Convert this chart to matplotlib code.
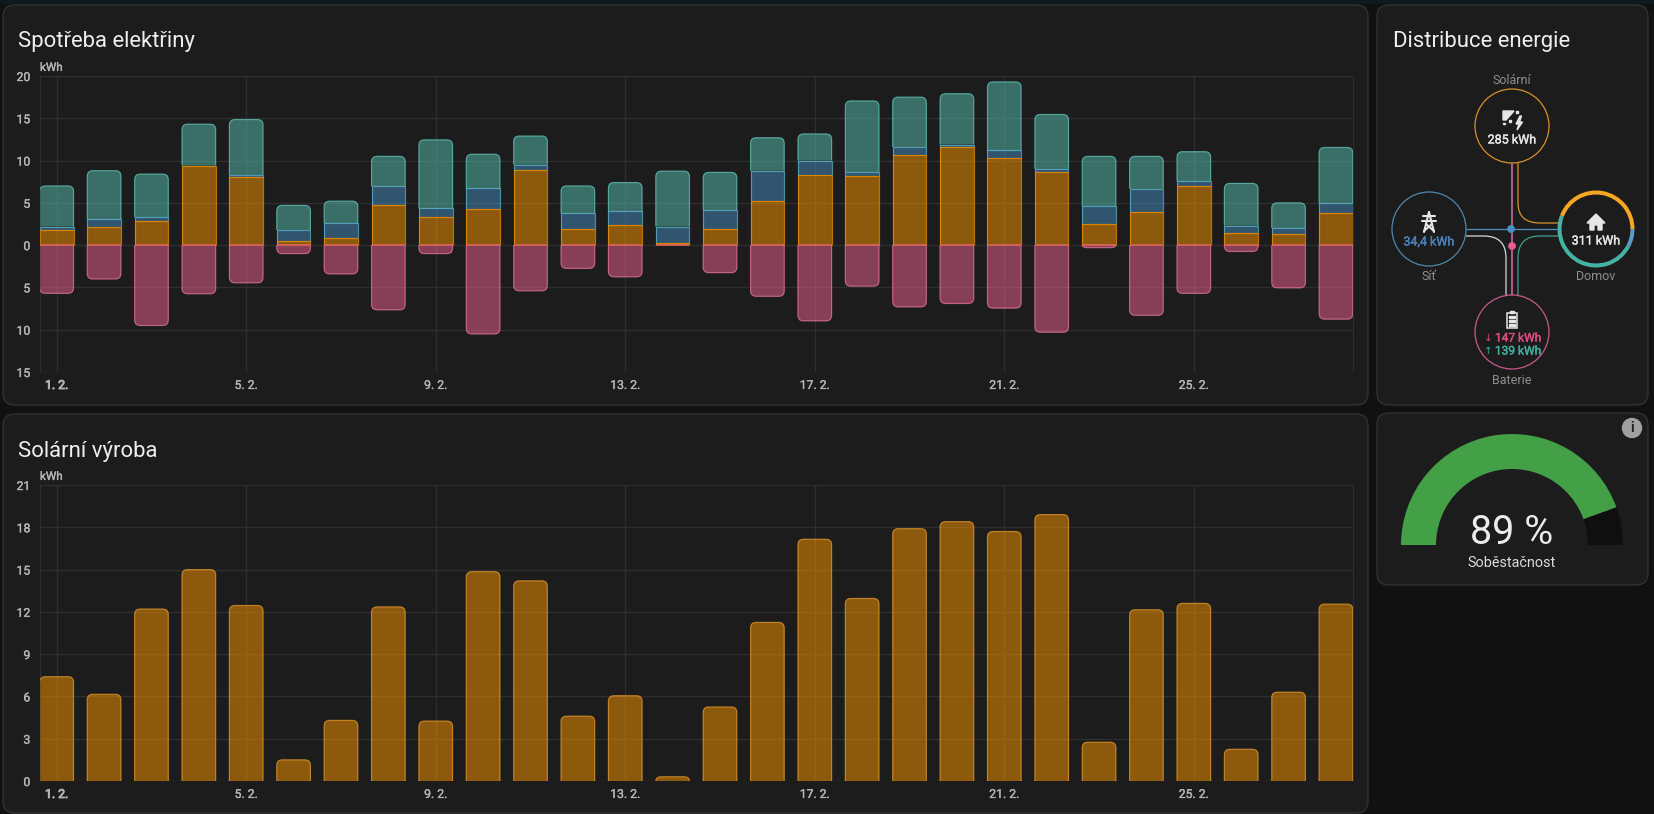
#!/usr/bin/env python3
"""Energy dashboard: consumption, solar production, distribution and self-sufficiency."""

import numpy as np
import matplotlib
matplotlib.use('Agg')
import matplotlib.pyplot as plt
import matplotlib.patheffects as pe
from matplotlib.patches import Arc, Circle, FancyBboxPatch, PathPatch, Polygon, Rectangle, Wedge
from matplotlib.path import Path

plt.rcParams['font.family'] = ['Roboto', 'DejaVu Sans']

W, H = 1654, 814

days = list(range(1, 29))
tick_days = [1, 5, 9, 13, 17, 21, 25]

# kWh per day, stacked in this order
solar_to_home = [1.8, 2.15, 2.8, 9.4, 8.1, 0.5, 0.9, 4.8, 3.3, 4.3, 8.9, 1.9, 2.4, 0.25,
                 1.95, 5.2, 8.3, 8.15, 10.6, 11.6, 10.25, 8.7, 2.45, 3.9, 6.95, 1.45, 1.3, 3.8]
grid_to_home = [0.4, 0.9, 0.5, 0.0, 0.2, 1.3, 1.7, 2.15, 1.05, 2.4, 0.6, 1.85, 1.6, 1.95,
                2.2, 3.6, 1.7, 0.5, 1.0, 0.3, 0.95, 0.3, 2.15, 2.75, 0.6, 0.85, 0.7, 1.15]
battery_to_home = [4.8, 5.75, 5.1, 4.9, 6.55, 2.9, 2.6, 3.55, 8.1, 4.05, 3.4, 3.25, 3.4, 6.55,
                   4.45, 3.9, 3.15, 8.4, 5.9, 6.0, 8.1, 6.45, 5.9, 3.85, 3.5, 5.0, 3.0, 6.6]
to_battery = [5.7, 4.0, 9.5, 5.75, 4.45, 1.0, 3.4, 7.65, 1.0, 10.5, 5.4, 2.75, 3.75, 0.0,
              3.25, 6.05, 8.95, 4.85, 7.3, 6.9, 7.45, 10.3, 0.3, 8.3, 5.7, 0.75, 5.05, 8.75]

solar_production = [7.4, 6.15, 12.2, 15.0, 12.45, 1.5, 4.3, 12.35, 4.25, 14.85, 14.2, 4.6, 6.05, 0.3,
                    5.25, 11.25, 17.15, 12.95, 17.9, 18.4, 17.7, 18.9, 2.75, 12.15, 12.6, 2.25, 6.3, 12.55]

self_sufficiency = 89

ORANGE = '#ff9800'
BLUE = '#488fc2'
TEAL = '#58c2b2'
PINK = '#f06292'
LABEL = '#b4b4b4'
GRID = '#2e2e2e'

# chart geometry in pixels
PLOT_L, PLOT_R = 40, 1353
DAY_W = 47.38
FIRST_C = 56.7


def px_axes(fig, left, top, right, bottom):
    return fig.add_axes([left / W, 1 - bottom / H, (right - left) / W, (bottom - top) / H])


def thicken(text, width):
    # Roboto only comes in one usable weight here, so fatten the glyphs a little
    text.set_path_effects([pe.withStroke(linewidth=width, foreground=text.get_color())])


def bar_segment(ax, day, y0, y1, color, edge=None, rounded=False, px_y=8.45):
    """One bar piece from y0 to y1; the y1 end gets round corners if asked."""
    half = 0.355
    x0, x1 = day - half, day + half
    edge = edge or color
    sign = 1 if y1 >= y0 else -1
    rx = 5.5 / DAY_W
    ry = min(5.5 / px_y, abs(y1 - y0))
    if rounded:
        verts = [(x0, y0), (x0, y1 - sign * ry), (x0, y1), (x0 + rx, y1),
                 (x1 - rx, y1), (x1, y1), (x1, y1 - sign * ry), (x1, y0)]
        codes = [Path.MOVETO, Path.LINETO, Path.CURVE3, Path.CURVE3,
                 Path.LINETO, Path.CURVE3, Path.CURVE3, Path.LINETO]
    else:
        verts = [(x0, y0), (x0, y1), (x1, y1), (x1, y0)]
        codes = [Path.MOVETO, Path.LINETO, Path.LINETO, Path.LINETO]
    path = Path(verts, codes)
    ax.add_patch(PathPatch(path, facecolor=color, alpha=0.5, edgecolor='none', zorder=2))
    ax.add_patch(PathPatch(path, facecolor='none', edgecolor=edge, alpha=0.7, lw=0.85, zorder=3))


def style_axes(ax, ymin, ymax, yticks):
    ax.set_facecolor('none')
    ax.set_xlim((PLOT_L - FIRST_C) / DAY_W + 1, (PLOT_R - FIRST_C) / DAY_W + 1)
    ax.set_ylim(ymin, ymax)
    ax.set_yticks(yticks)
    ax.set_yticklabels([str(abs(v)) for v in yticks])
    ax.set_xticks(tick_days)
    ax.set_xticklabels([f'{d}. 2.' for d in tick_days])
    ax.tick_params(length=0, colors=LABEL, labelsize=8.8)
    ax.tick_params(axis='x', pad=5)
    ax.tick_params(axis='y', pad=7)
    for lab in ax.get_xticklabels()[1:] + ax.get_yticklabels():
        thicken(lab, 0.25)
    thicken(ax.get_xticklabels()[0], 0.7)
    ax.grid(True, color=GRID, lw=1.0)
    ax.set_axisbelow(True)
    for side, spine in ax.spines.items():
        spine.set_visible(side in ('left', 'right'))
        spine.set_color(GRID)
    unit = ax.text(0, 1.007, 'kWh', transform=ax.transAxes, color=LABEL, fontsize=8.4,
                   ha='left', va='bottom')
    thicken(unit, 0.25)


def card(bg, left, top, right, bottom):
    bg.add_patch(FancyBboxPatch((left + 12, top + 12), right - left - 24, bottom - top - 24,
                                boxstyle='round,pad=12,rounding_size=12',
                                facecolor='#1c1c1c', edgecolor='#343434', lw=0.9))


def flow(bg, pts, color, lw=0.9):
    # pts: line / curve control points, 'c' marks a quadratic corner
    verts, codes = [pts[0]], [Path.MOVETO]
    for p in pts[1:]:
        if p[0] == 'c':
            verts += [p[1], p[2]]
            codes += [Path.CURVE3, Path.CURVE3]
        else:
            verts.append(p)
            codes.append(Path.LINETO)
    bg.add_patch(PathPatch(Path(verts, codes), facecolor='none', edgecolor=color, lw=lw))


def draw_distribution(bg):
    cx, r = 1512, 37
    grid_c, home_c, solar_c, batt_c = (1429, 229), (1596, 229), (cx, 126), (cx, 332)

    flow(bg, [(1518, 163), (1518, 203), ('c', (1518, 223), (1540, 223)), (1559, 223)], '#d9912a')
    flow(bg, [(1466, 229), (1559, 229)], BLUE)
    flow(bg, [(1466, 236), (1484, 236), ('c', (1506, 236), (1506, 258)), (1506, 295)], '#d8d8d8')
    flow(bg, [(1518, 295), (1518, 258), ('c', (1518, 236), (1540, 236)), (1559, 236)], '#3f9f8f')
    flow(bg, [(cx, 163), (cx, 295)], '#a85c84', lw=1.5)
    bg.add_patch(Circle((1511, 229), 3.2, color=BLUE))
    bg.add_patch(Circle((cx, 246), 3.2, color='#e85c90'))

    bg.add_patch(Circle(solar_c, r, fc='#1c1c1c', ec='#d9912a', lw=0.9))
    bg.add_patch(Circle(grid_c, r, fc='#1c1c1c', ec='#4f86ad', lw=0.9))
    bg.add_patch(Circle(batt_c, r, fc='#1c1c1c', ec='#c9588a', lw=0.9))

    # home ring, split by source
    for th0, th1, col in [(201, 360, '#f5a623'), (0, 28, '#5b9bc8'), (28, 201, '#45b3a3')]:
        bg.add_patch(Arc(home_c, 2 * r - 1, 2 * r - 1, theta1=th0, theta2=th1, color=col, lw=2.9))

    small = dict(color='#8f8f8f', fontsize=9.0, ha='center', va='center')
    bg.text(cx, 81, 'Solární', **small)
    bg.text(1429, 276, 'Síť', **small)
    bg.text(1596, 276, 'Domov', **small)
    bg.text(cx, 381, 'Baterie', **small)

    val = dict(fontsize=9.0, ha='center', va='center')
    for x, y, s, col in [(cx, 140, '285 kWh', '#e4e4e4'), (1429, 242, '34,4 kWh', '#4a7fb5'),
                         (1596, 241, '311 kWh', '#e4e4e4')]:
        thicken(bg.text(x, y, s, color=col, **val), 0.3)
    batt = dict(fontsize=8.6, ha='center', va='center')
    thicken(bg.text(cx + 6, 338, '147 kWh', color='#d84e7f', **batt), 0.3)
    thicken(bg.text(cx + 6, 351, '139 kWh', color='#3fae9c', **batt), 0.3)
    bg.text(cx - 24, 337.5, '↓', color='#d84e7f', fontsize=7.5, ha='center', va='center')
    bg.text(cx - 24, 350.5, '↑', color='#3fae9c', fontsize=7.5, ha='center', va='center')

    icon = '#e6e6e6'
    # solar panel and bolt
    bg.add_patch(Polygon([(1503, 111), (1514, 111), (1506, 120), (1503, 120)], color=icon))
    bg.add_patch(Rectangle((1509, 120), 1.8, 1.8, color=icon))
    bg.add_patch(Rectangle((1503, 122.5), 1.8, 1.8, color=icon))
    bg.add_patch(Rectangle((1516, 111), 1.8, 1.8, color=icon))
    bg.add_patch(Polygon([(1520, 116), (1516, 124), (1519, 124), (1517, 130), (1522.5, 122),
                          (1519.5, 122), (1521.5, 116)], color=icon))
    # pylon
    for seg in [((1429, 212), (1424, 232)), ((1429, 212), (1434, 232)), ((1423, 216), (1435, 216)),
                ((1422, 221), (1436, 221)), ((1426, 224), (1434, 231)), ((1432, 224), (1424, 231))]:
        bg.plot(*zip(*seg), color=icon, lw=1.5, solid_capstyle='round')
    # house
    bg.add_patch(Polygon([(1596, 214), (1605, 223), (1602, 223), (1602, 230), (1598, 230), (1598, 225),
                          (1594, 225), (1594, 230), (1590, 230), (1590, 223), (1587, 223)], color=icon))
    # battery
    bg.add_patch(Rectangle((1507, 313), 10, 15, fc='none', ec=icon, lw=1.1))
    bg.add_patch(Rectangle((1510, 311), 4, 2, color=icon))
    for y in (315.5, 319.5, 323.5):
        bg.add_patch(Rectangle((1509, y), 6, 2.2, color=icon))


def draw_gauge(bg):
    center, outer, band = (1512, 545), 111, 35
    split = 180 + 180 * self_sufficiency / 100
    bg.add_patch(Wedge(center, outer, 180, split, width=band, color='#43a047', lw=0))
    bg.add_patch(Wedge(center, outer, split, 360, width=band, color='#0f0f0f', lw=0))
    bg.text(1512, 544, f'{self_sufficiency} %', color='#ececec', fontsize=28.5, ha='center', va='baseline')
    bg.text(1512, 563, 'Soběstačnost', color='#dcdcdc', fontsize=10.4, ha='center', va='center')
    bg.add_patch(Circle((1632, 428), 9.5, color='#a0a0a0'))
    bg.text(1632, 428, 'i', color='#222222', fontsize=10, fontweight='bold', ha='center', va='center')


def main():
    fig = plt.figure(figsize=(W / 100, H / 100), dpi=100, facecolor='#111111')

    bg = fig.add_axes([0, 0, 1, 1], zorder=0)
    bg.set_xlim(0, W)
    bg.set_ylim(H, 0)
    bg.axis('off')
    bg.add_patch(Rectangle((0, 0), W, 4, color='#0e1a20', lw=0))

    card(bg, 3, 5, 1368, 405)
    card(bg, 3, 414, 1368, 813)
    card(bg, 1377, 5, 1648, 405)
    card(bg, 1377, 413, 1648, 585)

    title = dict(color='#eeeeee', fontsize=15.9, ha='left', va='baseline')
    bg.text(18, 47, 'Spotřeba elektřiny', **title)
    bg.text(18, 457, 'Solární výroba', **title)
    bg.text(1393, 47, 'Distribuce energie', **title)

    # consumption chart
    ax1 = px_axes(fig, PLOT_L, 76, PLOT_R, 372)
    ax1.set_zorder(1)
    style_axes(ax1, -15, 20, [-15, -10, -5, 0, 5, 10, 15, 20])
    for i, day in enumerate(days):
        s, g, b = solar_to_home[i], grid_to_home[i], battery_to_home[i]
        bar_segment(ax1, day, 0, s, ORANGE)
        if g > 0:
            bar_segment(ax1, day, s, s + g, BLUE, edge='#5fbcd6')
        bar_segment(ax1, day, s + g, s + g + b, TEAL, edge='#66cfc2', rounded=True)
        if to_battery[i] > 0:
            bar_segment(ax1, day, 0, -to_battery[i], PINK, edge='#f27ba6', rounded=True)
    day_arr = np.array(days)
    ax1.hlines(np.zeros(len(days)), day_arr - 0.355, day_arr + 0.355, color='#e8685c', lw=1.1, zorder=4)

    # production chart
    ax2 = px_axes(fig, PLOT_L, 485, PLOT_R, 781)
    ax2.set_zorder(1)
    style_axes(ax2, 0, 21, list(range(0, 22, 3)))
    for day, value in zip(days, solar_production):
        bar_segment(ax2, day, 0, value, ORANGE, edge='#f0a030', rounded=True, px_y=14.1)

    draw_distribution(bg)
    draw_gauge(bg)

    fig.savefig('out.png', dpi=100, facecolor=fig.get_facecolor())
    plt.close(fig)


if __name__ == '__main__':
    main()
